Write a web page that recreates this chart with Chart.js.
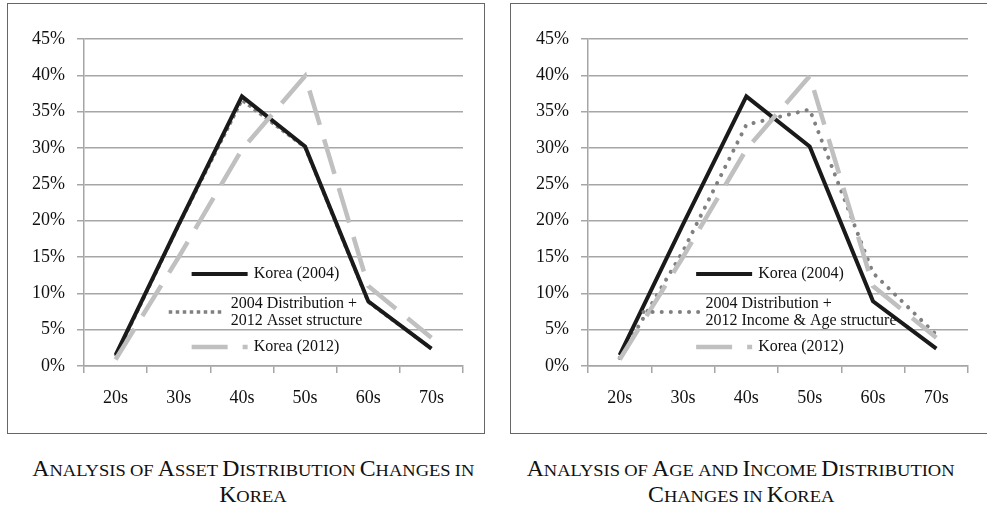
<!DOCTYPE html>
<html>
<head>
<meta charset="utf-8">
<script src="https://cdn.jsdelivr.net/npm/chart.js@4.4.1/dist/chart.umd.min.js"></script>
<style>
  html, body { margin: 0; padding: 0; background: #fff; overflow: hidden; }
  body { width: 987px; height: 512px; position: relative; }
  .box { position: absolute; top: 3px; height: 429px; border: 1px solid #666; background: #fff; }
  .box canvas { position: absolute; left: 0; top: 0; }
  .caption {
    position: absolute; top: 456px; width: 480px; text-align: center;
    font-family: "Liberation Serif", "Times New Roman", serif;
    line-height: 26px; color: #111;
  }
  .caption .line { display: block; white-space: nowrap; height: 26px; }
  .caption .line span.inner { display: inline-block; transform-origin: 50% 50%; }
  .big { font-size: 22.5px; }
  .small { font-size: 17.5px; }
</style>
</head>
<body>
<div class="box" style="left:7px; width:476px;"><canvas id="assetChart" width="476" height="429"></canvas></div>
<div class="box" style="left:510px; width:480px; border-right:none;"><canvas id="ageChart" width="476" height="429"></canvas></div>
<div class="caption" id="cap1" style="left:13px;"></div>
<div class="caption" id="cap2" style="left:501px;"></div>

<script>
// ===== Data (percent of households by age of head) =====
const ages = ['20s', '30s', '40s', '50s', '60s', '70s'];
const yTicks = [0, 5, 10, 15, 20, 25, 30, 35, 40, 45];

const korea2004 = [1.5, 19.5, 37.1, 30.2, 8.9, 2.4];
const korea2012 = [0.9, 15.0, 29.8, 39.9, 11.0, 3.9];
const assetAdjusted = [1.3, 19.4, 36.6, 30.1, 8.8, 2.4];
const incomeAgeAdjusted = [1.1, 15.8, 33.2, 35.3, 12.8, 4.3];

const caption1 = ['Analysis of Asset Distribution Changes in', 'Korea'];
const caption2 = ['Analysis of Age and Income Distribution', 'Changes in Korea'];

// ===== Small-caps captions =====
function smallCaps(text) {
    return text.split('').map(ch => {
        if (ch === ' ') return ' ';
        const up = ch.toUpperCase();
        return ch === up ? `<span class="big">${ch}</span>` : `<span class="small">${up}</span>`;
    }).join('');
}

function fillCaption(id, lines) {
    const el = document.getElementById(id);
    el.innerHTML = lines.map(l => `<span class="line"><span class="inner">${smallCaps(l)}</span></span>`).join('');
}
fillCaption('cap1', caption1);
fillCaption('cap2', caption2);

// condense horizontally so the first line of the left caption spans ~442px
const firstLine = document.querySelector('#cap1 .inner');
const squeeze = 442 / firstLine.getBoundingClientRect().width;
document.querySelectorAll('.caption .inner').forEach(s => { s.style.transform = `scaleX(${squeeze})`; });

// ===== Legend drawn inside the plot area =====
const innerLegend = {
    id: 'innerLegend',
    afterDraw(chart, args, opts) {
        const ctx = chart.ctx;
        const area = chart.chartArea;
        const cx = (area.left + area.right) / 2 + opts.shiftX;
        const sampleW = 56, gap = 6;
        ctx.save();
        ctx.font = '16px "Liberation Serif", "Times New Roman", serif';
        ctx.textBaseline = 'middle';
        ctx.fillStyle = '#111';
        opts.order.forEach((dsIndex, row) => {
            const ds = chart.data.datasets[dsIndex];
            const lines = ds.label.split('\n');
            const textW = Math.max(...lines.map(l => ctx.measureText(l).width));
            const x0 = cx - (sampleW + gap + textW) / 2;
            const y = area.bottom + opts.rows[row];

            ctx.save();
            ctx.strokeStyle = ds.borderColor;
            ctx.lineWidth = ds.borderWidth;
            ctx.lineCap = ds.borderCapStyle || 'butt';
            ctx.setLineDash(ds.borderDash || []);
            ctx.beginPath();
            ctx.moveTo(x0, y);
            ctx.lineTo(x0 + sampleW, y);
            ctx.stroke();
            ctx.restore();

            const lh = 17;
            lines.forEach((l, i) => {
                ctx.fillText(l, x0 + sampleW + gap, y + (i - (lines.length - 1) / 2) * lh);
            });
        });
        ctx.restore();
    }
};

function makeChart(id, dottedLabel, dottedData, dotStyle, yWidth, padRight) {
    const font = { family: '"Liberation Serif", "Times New Roman", serif', size: 18 };
    return new Chart(document.getElementById(id), {
        type: 'line',
        data: {
            labels: ages,
            datasets: [
                {
                    label: 'Korea (2012)',
                    data: korea2012,
                    borderColor: '#c0c0c0',
                    borderWidth: 4.5,
                    borderDash: [36, 15],
                    borderCapStyle: 'butt',
                    pointRadius: 0,
                    tension: 0
                },
                {
                    label: 'Korea (2004)',
                    data: korea2004,
                    borderColor: '#1a1a1a',
                    borderWidth: 4,
                    pointRadius: 0,
                    tension: 0
                },
                Object.assign({
                    label: dottedLabel,
                    data: dottedData,
                    borderColor: '#808080',
                    pointRadius: 0,
                    tension: 0
                }, dotStyle)
            ]
        },
        options: {
            responsive: false,
            animation: false,
            layout: { padding: { top: 35, right: padRight, left: 0, bottom: 0 } },
            plugins: {
                legend: { display: false },
                tooltip: { enabled: false },
                innerLegend: { order: [1, 2, 0], rows: [-92, -54, -19], shiftX: -8 }
            },
            scales: {
                x: {
                    offset: true,
                    grid: {
                        offset: true,
                        drawOnChartArea: false,
                        drawTicks: true,
                        tickLength: 7,
                        color: '#a6a6a6',
                        lineWidth: 1.5
                    },
                    border: { color: '#a6a6a6', width: 1.5 },
                    ticks: { color: '#111', font: font, padding: 14, maxRotation: 0 },
                    afterFit: s => { s.height = 67; }
                },
                y: {
                    min: 0,
                    max: 45,
                    afterBuildTicks: s => { s.ticks = yTicks.map(v => ({ value: v })); },
                    grid: {
                        color: '#a6a6a6',
                        lineWidth: 1.5,
                        tickLength: 7
                    },
                    border: { color: '#a6a6a6', width: 1.5 },
                    ticks: { color: '#111', font: font, padding: 12, callback: v => v + '%' },
                    afterFit: s => { s.width = yWidth; }
                }
            }
        },
        plugins: [innerLegend]
    });
}

makeChart('assetChart', '2004 Distribution +\n2012 Asset structure', assetAdjusted,
    { borderWidth: 3.5, borderDash: [3.5, 3.5], borderCapStyle: 'butt' }, 76, 21);
makeChart('ageChart', '2004 Distribution +\n2012 Income & Age structure', incomeAgeAdjusted,
    { borderWidth: 4, borderDash: [0.1, 9], borderCapStyle: 'round' }, 77, 19);
</script>
</body>
</html>
